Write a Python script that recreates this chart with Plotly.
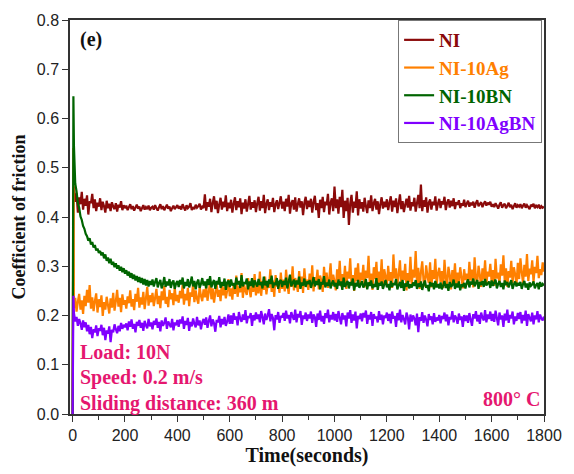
import plotly.graph_objects as go

# time axis (seconds)
time_s = [0, 3] + list(range(5, 1801, 5))

ni = [0.0, 0.45,
 0.462, 0.431, 0.448, 0.409, 0.440, 0.426, 0.451, 0.415, 0.437, 0.423, 0.444, 0.405, 0.432, 0.428, 0.447, 0.418, 0.436, 0.412, 0.429, 0.421,
 0.438, 0.414, 0.431, 0.422, 0.409, 0.433, 0.418, 0.427, 0.412, 0.430, 0.421, 0.416, 0.428, 0.411, 0.425, 0.419, 0.432, 0.414, 0.424, 0.418,
 0.423, 0.414, 0.420, 0.426, 0.416, 0.422, 0.413, 0.419, 0.425, 0.417, 0.421, 0.412, 0.418, 0.424, 0.415, 0.420, 0.416, 0.423, 0.414, 0.419,
 0.421, 0.415, 0.424, 0.418, 0.413, 0.420, 0.426, 0.416, 0.422, 0.414, 0.419, 0.425, 0.417, 0.421, 0.412, 0.418, 0.423, 0.416, 0.420, 0.424,
 0.417, 0.422, 0.415, 0.426, 0.419, 0.413, 0.424, 0.418, 0.421, 0.428, 0.414, 0.420, 0.416, 0.425, 0.419, 0.422, 0.427, 0.415, 0.421, 0.418,
 0.446, 0.413, 0.430, 0.421, 0.437, 0.410, 0.428, 0.442, 0.416, 0.433, 0.408, 0.426, 0.439, 0.415, 0.431, 0.420, 0.444, 0.412, 0.429, 0.418,
 0.435, 0.409, 0.427, 0.440, 0.414, 0.432, 0.420, 0.438, 0.406, 0.429, 0.417, 0.436, 0.411, 0.426, 0.443, 0.415, 0.430, 0.419, 0.434, 0.410,
 0.428, 0.441, 0.413, 0.432, 0.418, 0.445, 0.408, 0.427, 0.436, 0.414, 0.430, 0.421, 0.439, 0.410, 0.426, 0.434, 0.416, 0.429, 0.442, 0.417,
 0.431, 0.412, 0.437, 0.421, 0.445, 0.407, 0.428, 0.434, 0.415, 0.440, 0.411, 0.426, 0.438, 0.419, 0.432, 0.404, 0.429, 0.441, 0.416, 0.433,
 0.420, 0.437, 0.409, 0.430, 0.443, 0.414, 0.428, 0.398, 0.435, 0.418, 0.441, 0.410, 0.431, 0.424, 0.447, 0.405, 0.429, 0.438, 0.412, 0.462,
 0.418, 0.436, 0.407, 0.441, 0.420, 0.455, 0.398, 0.433, 0.412, 0.439, 0.384, 0.427, 0.445, 0.409, 0.431, 0.419, 0.452, 0.403, 0.436, 0.417,
 0.430, 0.411, 0.439, 0.422, 0.408, 0.434, 0.418, 0.444, 0.412, 0.428, 0.437, 0.415, 0.432, 0.406, 0.426, 0.440, 0.417, 0.431, 0.420, 0.436,
 0.414, 0.429, 0.442, 0.411, 0.433, 0.420, 0.438, 0.408, 0.427, 0.446, 0.416, 0.432, 0.410, 0.425, 0.437, 0.419, 0.443, 0.413, 0.430, 0.422,
 0.439, 0.411, 0.428, 0.445, 0.418, 0.466, 0.412, 0.434, 0.421, 0.440, 0.409, 0.429, 0.436, 0.415, 0.431, 0.424, 0.442, 0.413, 0.427, 0.437,
 0.418, 0.432, 0.426, 0.441, 0.414, 0.429, 0.436, 0.419, 0.433, 0.422, 0.438, 0.416, 0.430, 0.425, 0.434, 0.418, 0.428, 0.423, 0.435, 0.420,
 0.427, 0.433, 0.421, 0.429, 0.424, 0.431, 0.419, 0.428, 0.434, 0.422, 0.426, 0.430, 0.420, 0.427, 0.432, 0.423, 0.429, 0.425, 0.431, 0.421,
 0.426, 0.420, 0.428, 0.423, 0.417, 0.425, 0.430, 0.419, 0.424, 0.427, 0.418, 0.423, 0.429, 0.420, 0.425, 0.416, 0.422, 0.428, 0.419, 0.424,
 0.421, 0.426, 0.418, 0.423, 0.427, 0.419, 0.424, 0.420, 0.416, 0.425, 0.421, 0.427, 0.418, 0.423, 0.420, 0.425, 0.417, 0.422, 0.419, 0.421]

ni_10ag = [0.0, 0.54,
 0.215, 0.236, 0.208, 0.228, 0.244, 0.212, 0.231, 0.203, 0.240, 0.219, 0.252, 0.226, 0.262, 0.214, 0.237, 0.209, 0.229, 0.245, 0.206, 0.233,
 0.217, 0.241, 0.199, 0.227, 0.212, 0.238, 0.221, 0.204, 0.235, 0.216, 0.246, 0.210, 0.229, 0.252, 0.218, 0.236, 0.207, 0.243, 0.222, 0.231,
 0.214, 0.239, 0.225, 0.251, 0.218, 0.233, 0.211, 0.244, 0.228, 0.256, 0.216, 0.237, 0.222, 0.248, 0.213, 0.235, 0.258, 0.220, 0.241, 0.227,
 0.246, 0.219, 0.236, 0.254, 0.223, 0.240, 0.215, 0.249, 0.231, 0.260, 0.224, 0.238, 0.217, 0.252, 0.233, 0.245, 0.221, 0.257, 0.229, 0.242,
 0.226, 0.250, 0.235, 0.262, 0.222, 0.244, 0.231, 0.256, 0.219, 0.247, 0.238, 0.265, 0.227, 0.251, 0.234, 0.224, 0.258, 0.240, 0.229, 0.253,
 0.237, 0.261, 0.230, 0.248, 0.270, 0.233, 0.255, 0.226, 0.246, 0.264, 0.238, 0.252, 0.229, 0.268, 0.241, 0.257, 0.235, 0.250, 0.274, 0.239,
 0.255, 0.232, 0.266, 0.244, 0.281, 0.238, 0.259, 0.247, 0.286, 0.236, 0.262, 0.250, 0.242, 0.276, 0.253, 0.237, 0.268, 0.248, 0.284, 0.241,
 0.262, 0.245, 0.289, 0.240, 0.270, 0.252, 0.279, 0.243, 0.265, 0.256, 0.294, 0.248, 0.271, 0.238, 0.282, 0.259, 0.266, 0.246, 0.287, 0.254,
 0.273, 0.249, 0.293, 0.262, 0.244, 0.281, 0.258, 0.300, 0.251, 0.276, 0.265, 0.248, 0.290, 0.257, 0.279, 0.246, 0.296, 0.262, 0.273, 0.252,
 0.285, 0.258, 0.302, 0.249, 0.278, 0.266, 0.293, 0.253, 0.281, 0.270, 0.248, 0.299, 0.262, 0.287, 0.256, 0.275, 0.306, 0.260, 0.283, 0.269,
 0.251, 0.294, 0.272, 0.311, 0.259, 0.284, 0.266, 0.301, 0.254, 0.289, 0.275, 0.316, 0.261, 0.282, 0.250, 0.297, 0.270, 0.306, 0.258, 0.287,
 0.272, 0.303, 0.257, 0.291, 0.276, 0.321, 0.263, 0.285, 0.252, 0.298, 0.274, 0.309, 0.260, 0.289, 0.267, 0.314, 0.255, 0.294, 0.279, 0.262,
 0.301, 0.270, 0.288, 0.256, 0.324, 0.275, 0.296, 0.262, 0.283, 0.312, 0.258, 0.291, 0.272, 0.305, 0.251, 0.286, 0.268, 0.319, 0.263, 0.293,
 0.277, 0.331, 0.265, 0.297, 0.254, 0.288, 0.310, 0.271, 0.259, 0.302, 0.279, 0.266, 0.308, 0.257, 0.292, 0.274, 0.315, 0.262, 0.285, 0.297,
 0.268, 0.290, 0.256, 0.313, 0.276, 0.261, 0.299, 0.283, 0.253, 0.292, 0.270, 0.306, 0.259, 0.287, 0.265, 0.298, 0.278, 0.255, 0.294, 0.272,
 0.285, 0.262, 0.309, 0.271, 0.293, 0.257, 0.318, 0.276, 0.265, 0.301, 0.282, 0.258, 0.296, 0.273, 0.312, 0.264, 0.289, 0.279, 0.305, 0.268,
 0.292, 0.260, 0.315, 0.275, 0.287, 0.263, 0.304, 0.281, 0.322, 0.269, 0.296, 0.258, 0.290, 0.277, 0.311, 0.266, 0.298, 0.283, 0.262, 0.307,
 0.274, 0.316, 0.288, 0.265, 0.303, 0.279, 0.325, 0.270, 0.295, 0.284, 0.312, 0.268, 0.299, 0.286, 0.321, 0.276, 0.294, 0.282, 0.308, 0.289]

ni_10bn = [0.0, 0.645,
 0.545, 0.468, 0.452, 0.428, 0.419, 0.401, 0.394, 0.382, 0.376, 0.366, 0.361, 0.352, 0.357, 0.344, 0.349, 0.338, 0.343, 0.332, 0.336, 0.327,
 0.331, 0.322, 0.328, 0.316, 0.324, 0.311, 0.318, 0.306, 0.315, 0.303, 0.309, 0.298, 0.306, 0.295, 0.302, 0.291, 0.299, 0.288, 0.296, 0.285,
 0.292, 0.281, 0.289, 0.277, 0.286, 0.274, 0.283, 0.271, 0.280, 0.268, 0.278, 0.266, 0.276, 0.263, 0.274, 0.261, 0.272, 0.259, 0.270, 0.262,
 0.273, 0.259, 0.268, 0.276, 0.257, 0.266, 0.272, 0.255, 0.264, 0.278, 0.258, 0.269, 0.261, 0.274, 0.256, 0.267, 0.271, 0.254, 0.265, 0.270,
 0.258, 0.272, 0.263, 0.277, 0.255, 0.268, 0.260, 0.274, 0.257, 0.266, 0.279, 0.259, 0.270, 0.253, 0.267, 0.273, 0.256, 0.264, 0.276, 0.261,
 0.269, 0.255, 0.274, 0.262, 0.280, 0.257, 0.266, 0.272, 0.254, 0.270, 0.263, 0.278, 0.256, 0.268, 0.260, 0.275, 0.252, 0.267, 0.271, 0.258,
 0.273, 0.261, 0.266, 0.254, 0.277, 0.263, 0.270, 0.256, 0.282, 0.259, 0.268, 0.264, 0.275, 0.253, 0.269, 0.260, 0.276, 0.257, 0.271, 0.265,
 0.259, 0.274, 0.262, 0.268, 0.255, 0.279, 0.261, 0.270, 0.257, 0.273, 0.264, 0.281, 0.256, 0.267, 0.262, 0.276, 0.254, 0.269, 0.272, 0.258,
 0.270, 0.262, 0.277, 0.255, 0.268, 0.283, 0.259, 0.266, 0.273, 0.257, 0.271, 0.263, 0.279, 0.254, 0.267, 0.261, 0.275, 0.258, 0.269, 0.264,
 0.272, 0.256, 0.266, 0.278, 0.259, 0.270, 0.262, 0.274, 0.253, 0.268, 0.263, 0.280, 0.257, 0.267, 0.260, 0.273, 0.255, 0.265, 0.271, 0.259,
 0.266, 0.254, 0.273, 0.261, 0.269, 0.252, 0.277, 0.258, 0.264, 0.270, 0.255, 0.268, 0.261, 0.275, 0.251, 0.266, 0.259, 0.272, 0.256, 0.263,
 0.270, 0.257, 0.262, 0.274, 0.253, 0.267, 0.260, 0.271, 0.255, 0.264, 0.258, 0.276, 0.252, 0.266, 0.261, 0.269, 0.254, 0.263, 0.272, 0.257,
 0.264, 0.251, 0.270, 0.258, 0.266, 0.262, 0.274, 0.253, 0.261, 0.268, 0.256, 0.272, 0.250, 0.265, 0.259, 0.270, 0.255, 0.263, 0.257, 0.267,
 0.260, 0.272, 0.254, 0.265, 0.258, 0.269, 0.252, 0.263, 0.271, 0.256, 0.262, 0.249, 0.268, 0.259, 0.266, 0.253, 0.270, 0.257, 0.264, 0.255,
 0.267, 0.253, 0.261, 0.270, 0.256, 0.264, 0.250, 0.268, 0.258, 0.262, 0.273, 0.254, 0.265, 0.257, 0.269, 0.251, 0.263, 0.260, 0.266, 0.255,
 0.267, 0.273, 0.257, 0.269, 0.263, 0.275, 0.259, 0.266, 0.272, 0.254, 0.268, 0.262, 0.270, 0.258, 0.274, 0.261, 0.265, 0.269, 0.256, 0.271,
 0.260, 0.267, 0.273, 0.255, 0.264, 0.270, 0.258, 0.266, 0.253, 0.271, 0.262, 0.268, 0.257, 0.265, 0.272, 0.254, 0.263, 0.269, 0.259, 0.266,
 0.261, 0.268, 0.254, 0.264, 0.270, 0.257, 0.265, 0.252, 0.267, 0.260, 0.263, 0.269, 0.255, 0.262, 0.266, 0.253, 0.268, 0.259, 0.264, 0.261]

ni_10agbn = [0.0, 0.24,
 0.205, 0.188, 0.197, 0.179, 0.193, 0.184, 0.171, 0.190, 0.176, 0.186, 0.168, 0.181, 0.162, 0.177, 0.154, 0.172, 0.166, 0.180, 0.158, 0.174,
 0.169, 0.181, 0.160, 0.175, 0.150, 0.170, 0.163, 0.178, 0.146, 0.171, 0.166, 0.182, 0.172, 0.164, 0.179, 0.168, 0.185, 0.173, 0.181, 0.176,
 0.184, 0.170, 0.188, 0.177, 0.192, 0.173, 0.183, 0.166, 0.187, 0.179, 0.191, 0.175, 0.185, 0.169, 0.189, 0.180, 0.174, 0.193, 0.178, 0.186,
 0.172, 0.189, 0.181, 0.194, 0.175, 0.187, 0.168, 0.190, 0.179, 0.185, 0.196, 0.173, 0.188, 0.182, 0.176, 0.193, 0.170, 0.186, 0.180, 0.191,
 0.177, 0.192, 0.184, 0.198, 0.173, 0.189, 0.181, 0.195, 0.169, 0.187, 0.178, 0.194, 0.183, 0.176, 0.197, 0.180, 0.190, 0.172, 0.186, 0.193,
 0.181, 0.196, 0.175, 0.189, 0.200, 0.178, 0.192, 0.184, 0.167, 0.191, 0.186, 0.199, 0.176, 0.193, 0.182, 0.197, 0.179, 0.188, 0.202, 0.183,
 0.200, 0.183, 0.205, 0.192, 0.198, 0.180, 0.207, 0.194, 0.187, 0.202, 0.191, 0.211, 0.184, 0.199, 0.195, 0.205, 0.179, 0.201, 0.190, 0.206,
 0.193, 0.202, 0.186, 0.209, 0.197, 0.182, 0.204, 0.191, 0.200, 0.213, 0.188, 0.203, 0.195, 0.170, 0.201, 0.192, 0.207, 0.185, 0.199, 0.196,
 0.205, 0.189, 0.210, 0.194, 0.201, 0.184, 0.207, 0.198, 0.191, 0.212, 0.186, 0.203, 0.196, 0.209, 0.181, 0.200, 0.193, 0.206, 0.189, 0.202,
 0.194, 0.208, 0.185, 0.202, 0.197, 0.177, 0.204, 0.191, 0.210, 0.188, 0.199, 0.183, 0.205, 0.195, 0.212, 0.186, 0.201, 0.192, 0.207, 0.190,
 0.203, 0.187, 0.209, 0.196, 0.182, 0.205, 0.192, 0.200, 0.178, 0.206, 0.194, 0.211, 0.185, 0.202, 0.190, 0.208, 0.174, 0.199, 0.193, 0.204,
 0.188, 0.205, 0.196, 0.210, 0.183, 0.201, 0.192, 0.207, 0.179, 0.203, 0.194, 0.198, 0.186, 0.209, 0.191, 0.202, 0.182, 0.200, 0.195, 0.206,
 0.189, 0.203, 0.184, 0.208, 0.194, 0.199, 0.177, 0.205, 0.190, 0.212, 0.186, 0.201, 0.193, 0.182, 0.206, 0.196, 0.172, 0.202, 0.188, 0.200,
 0.194, 0.180, 0.204, 0.166, 0.197, 0.189, 0.207, 0.185, 0.200, 0.192, 0.178, 0.203, 0.191, 0.198, 0.182, 0.205, 0.187, 0.196, 0.190, 0.201,
 0.184, 0.199, 0.193, 0.206, 0.188, 0.202, 0.180, 0.197, 0.192, 0.209, 0.186, 0.200, 0.195, 0.183, 0.204, 0.191, 0.198, 0.177, 0.201, 0.189,
 0.200, 0.185, 0.205, 0.192, 0.179, 0.203, 0.194, 0.209, 0.188, 0.201, 0.183, 0.206, 0.196, 0.190, 0.211, 0.186, 0.202, 0.193, 0.208, 0.189,
 0.203, 0.187, 0.210, 0.195, 0.180, 0.206, 0.192, 0.200, 0.177, 0.204, 0.190, 0.212, 0.185, 0.201, 0.194, 0.208, 0.182, 0.198, 0.189, 0.205,
 0.193, 0.207, 0.184, 0.201, 0.190, 0.210, 0.179, 0.203, 0.195, 0.188, 0.206, 0.182, 0.200, 0.192, 0.209, 0.186, 0.202, 0.194, 0.190, 0.198]

series_names = ["NI", "NI-10Ag", "NI-10BN", "NI-10AgBN"]
series_values = [ni, ni_10ag, ni_10bn, ni_10agbn]
series_colors = ["#8B0A0A", "#FF8000", "#006400", "#8000FF"]

x_ticks = list(range(0, 1801, 200))
y_ticks = [0.0, 0.1, 0.2, 0.3, 0.4, 0.5, 0.6, 0.7, 0.8]

SERIF = "Liberation Serif, Times New Roman, serif"
SANS = "Liberation Sans, Arial, sans-serif"
PINK = "#E5176F"

fig = go.Figure()
for name, vals, col in zip(series_names, series_values, series_colors):
    fig.add_trace(go.Scatter(
        x=time_s, y=vals, mode="lines",
        name=f"<span style='color:{col}'><b>{name}</b></span>",
        line=dict(color=col, width=2.2, simplify=False),
    ))

fig.update_layout(
    width=574, height=474,
    margin=dict(l=70, r=19, t=15, b=55),
    paper_bgcolor="white", plot_bgcolor="white",
    showlegend=True,
    legend=dict(
        x=0.996, y=1.0, xanchor="right", yanchor="top",
        bgcolor="white", bordercolor="#777777", borderwidth=1,
        font=dict(family=SERIF, size=19),
        itemwidth=30, tracegroupgap=0,
    ),
    xaxis=dict(
        range=[-10, 1800], tickvals=x_ticks, ticks="outside", ticklen=6,
        tickwidth=1.3, tickcolor="#333",
        minor=dict(dtick=100, ticks="outside", ticklen=4, tickcolor="#333", tickwidth=1.2),
        showline=True, linecolor="#333", linewidth=1.5, mirror=True,
        showgrid=False, zeroline=False,
        tickfont=dict(family=SANS, size=16, color="#222"),
        title=dict(text="<b>Time(seconds)</b>", font=dict(family=SERIF, size=20, color="#111"), standoff=4),
    ),
    yaxis=dict(
        range=[0, 0.8], tickvals=y_ticks, tickformat=".1f", ticks="outside", ticklen=6,
        tickwidth=1.3, tickcolor="#333",
        showline=True, linecolor="#333", linewidth=1.5, mirror=True,
        showgrid=False, zeroline=False,
        tickfont=dict(family=SANS, size=16, color="#222"),
        title=dict(text="<b>Coefficient of friction</b>", font=dict(family=SERIF, size=18, color="#111"), standoff=6),
    ),
)

annos = [
    dict(x=0.0165, y=0.95, text="<b>(e)</b>", color="#111", xanchor="left"),
    dict(x=0.0165, y=0.158, text="<b>Load: 10N</b>", color=PINK, xanchor="left"),
    dict(x=0.0165, y=0.092, text="<b>Speed: 0.2 m/s</b>", color=PINK, xanchor="left"),
    dict(x=0.0165, y=0.027, text="<b>Sliding distance: 360 m</b>", color=PINK, xanchor="left"),
    dict(x=0.996, y=0.037, text="<b>800° C</b>", color=PINK, xanchor="right"),
]
for a in annos:
    fig.add_annotation(x=a["x"], y=a["y"], xref="paper", yref="paper", text=a["text"],
                       showarrow=False, xanchor=a["xanchor"], yanchor="middle",
                       font=dict(family=SERIF, size=20, color=a["color"]))

fig.write_html("out.html")
